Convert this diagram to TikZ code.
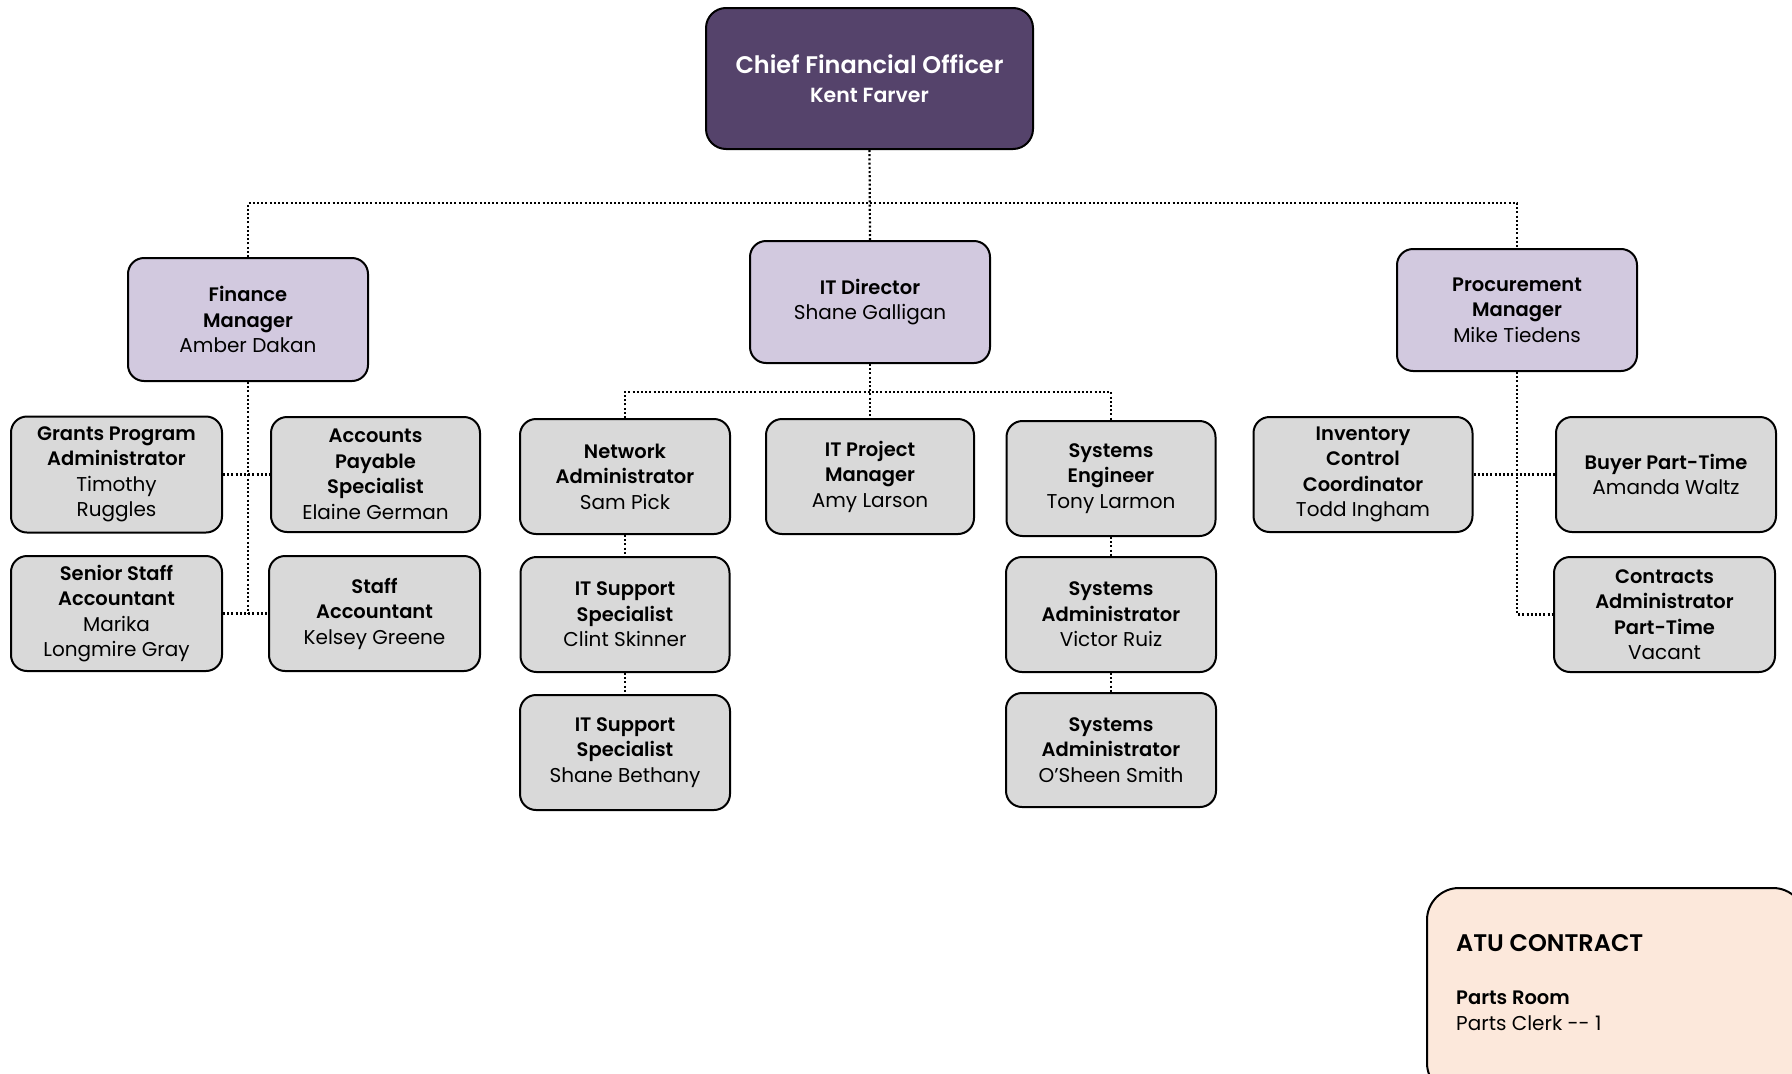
\documentclass[tikz,border=0pt]{standalone}
\usepackage{fontspec}
\setmainfont{Poppins}[BoldFont=Poppins SemiBold]
\definecolor{cfofill}{HTML}{55436B}
\definecolor{mgrfill}{HTML}{D2C9DF}
\definecolor{stafffill}{HTML}{D9D9D9}
\definecolor{atufill}{HTML}{FCE8DB}
\newcommand{\nm}[1]{{\fontsize{20}{25.5}\selectfont #1}}
\tikzset{
  basebox/.style={draw=black, line width=2pt, align=center, inner sep=0pt, text=black,
    font=\fontsize{19.5}{25.5}\selectfont},
  cfobox/.style={basebox, fill=cfofill, rounded corners=20pt, text=white,
    font=\fontsize{24}{29}\selectfont\bfseries},
  mgrbox/.style={basebox, fill=mgrfill, rounded corners=16pt},
  staffbox/.style={basebox, fill=stafffill, rounded corners=16pt},
  conn/.style={line width=2.2pt, dash pattern=on 2pt off 2.2pt, black},
}
\begin{document}
\begin{tikzpicture}[x=1pt,y=-1pt]
\useasboundingbox (0,0) rectangle (1792,1074);
\clip (0,0) rectangle (1792,1074);
\fill[white] (0,0) rectangle (1792,1074);

% top
\node[cfobox, minimum width=327pt, minimum height=141pt] (cfo) at (869.5,78.5)
  {\raisebox{3pt}{Chief Financial Officer}\\[-3pt]{\fontsize{20.5}{24}\selectfont Kent Farver}};

% managers
\node[mgrbox, minimum width=240pt, minimum height=123pt] (fm) at (248,319.5)
  {\textbf{Finance}\\\textbf{Manager}\\\nm{Amber Dakan}};
\node[mgrbox, minimum width=240pt, minimum height=122pt] (itd) at (870,302)
  {\textbf{IT Director}\\\nm{Shane Galligan}};
\node[mgrbox, minimum width=240pt, minimum height=122pt] (pm) at (1517,310)
  {\textbf{Procurement}\\\textbf{Manager}\\\nm{Mike Tiedens}};

% finance staff
\node[staffbox, minimum width=211pt, minimum height=116pt] (gpa) at (116.5,474.5)
  {\textbf{Grants Program}\\\textbf{Administrator}\\\nm{Timothy}\\\nm{Ruggles}};
\node[staffbox, minimum width=209pt, minimum height=115pt] (aps) at (375.5,474.5)
  {\textbf{Accounts}\\\textbf{Payable}\\\textbf{Specialist}\\\nm{Elaine German}};
\node[staffbox, minimum width=211pt, minimum height=115pt] (ssa) at (116.5,613.5)
  {\textbf{Senior Staff}\\\textbf{Accountant}\\\nm{Marika}\\\nm{Longmire Gray}};
\node[staffbox, minimum width=211pt, minimum height=115pt] (sa) at (374.5,613.5)
  {\textbf{Staff}\\\textbf{Accountant}\\\nm{Kelsey Greene}};

% IT staff
\node[staffbox, minimum width=210pt, minimum height=115pt] (na) at (625,476.5)
  {\textbf{Network}\\\textbf{Administrator}\\\nm{Sam Pick}};
\node[staffbox, minimum width=208pt, minimum height=115pt] (itp) at (870,476.5)
  {\textbf{IT Project}\\\textbf{Manager}\\\nm{Amy Larson}};
\node[staffbox, minimum width=209pt, minimum height=115pt] (se) at (1111,478.5)
  {\textbf{Systems}\\\textbf{Engineer}\\\nm{Tony Larmon}};
\node[staffbox, minimum width=209pt, minimum height=115pt] (its1) at (625,614.5)
  {\textbf{IT Support}\\\textbf{Specialist}\\\nm{Clint Skinner}};
\node[staffbox, minimum width=210pt, minimum height=115pt] (its2) at (625,752.5)
  {\textbf{IT Support}\\\textbf{Specialist}\\\nm{Shane Bethany}};
\node[staffbox, minimum width=210pt, minimum height=115pt] (sa1) at (1111,614.5)
  {\textbf{Systems}\\\textbf{Administrator}\\\nm{Victor Ruiz}};
\node[staffbox, minimum width=210pt, minimum height=114pt] (sa2) at (1111,750)
  {\textbf{Systems}\\\textbf{Administrator}\\\nm{O'Sheen Smith}};

% procurement staff
\node[staffbox, minimum width=219pt, minimum height=115pt] (icc) at (1363,474.5)
  {\textbf{Inventory}\\\textbf{Control}\\\textbf{Coordinator}\\\nm{Todd Ingham}};
\node[staffbox, minimum width=220pt, minimum height=115pt] (bpt) at (1666,474.5)
  {\textbf{Buyer Part-Time}\\\nm{Amanda Waltz}};
\node[staffbox, minimum width=221pt, minimum height=115pt] (cap) at (1664.5,614.5)
  {\textbf{Contracts}\\\textbf{Administrator}\\\textbf{Part-Time}\\\nm{Vacant}};

% ATU contract box
\draw[line width=2pt, fill=atufill, rounded corners=32pt] (1427,888) rectangle (1805,1095);
\node[anchor=west, inner sep=0pt, font=\fontsize{24}{29}\selectfont\bfseries] (atu) at (1456,943) {ATU CONTRACT};
\node[anchor=west, inner sep=0pt, font=\fontsize{19.5}{25.5}\selectfont\bfseries] (room) at (1456,998) {Parts Room};
\node[anchor=west, inner sep=0pt, font=\fontsize{20}{25.5}\selectfont] (clerk) at (1456,1023) {Parts Clerk -{}- 1};

% connectors
\coordinate (bus) at (0,203);
\coordinate (itbus) at (0,392);
\draw[conn] (cfo.south) -- (itd.north);
\draw[conn] (fm.north) -- (fm.north |- bus) -- (pm.north |- bus) -- (pm.north);

\draw[conn] (fm.south) -- (fm.south |- ssa.east);
\draw[conn] (gpa.east) -- (aps.west);
\draw[conn] (ssa.east) -- (sa.west);

\draw[conn] (itd.south) -- (itp.north);
\draw[conn] (na.north) -- (na.north |- itbus) -- (se.north |- itbus) -- (se.north);
\draw[conn] (na.south) -- (its1.north);
\draw[conn] (its1.south) -- (its2.north);
\draw[conn] (se.south) -- (sa1.north);
\draw[conn] (sa1.south) -- (sa2.north);

\draw[conn] (pm.south) -- (pm.south |- cap.west) -- (cap.west);
\draw[conn] (icc.east) -- (bpt.west);
\end{tikzpicture}
\end{document}
